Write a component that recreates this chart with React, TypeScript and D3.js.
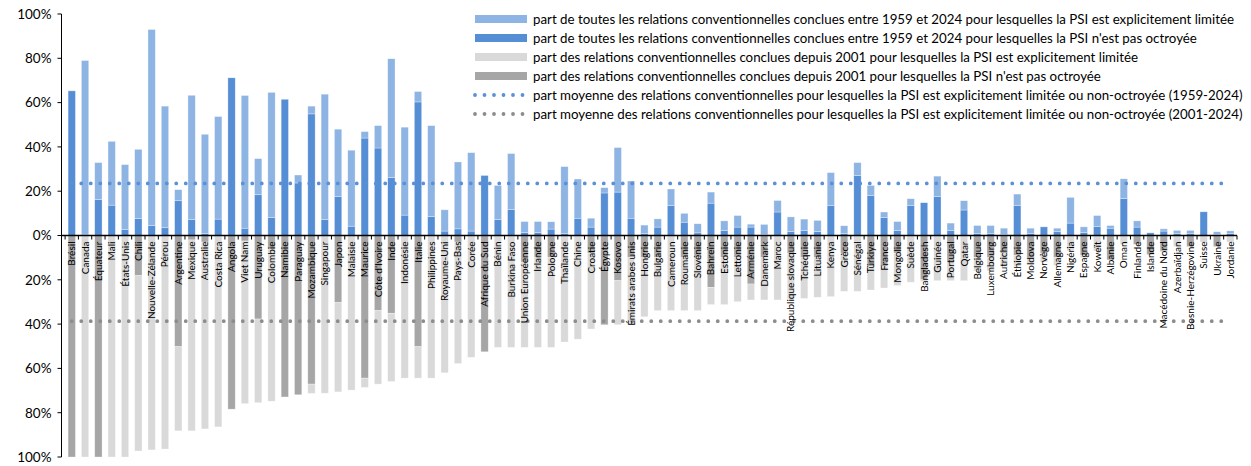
import React from 'react';
import * as d3 from 'd3';

const categories = [
  'Brésil','Canada','Équateur','Mali','États-Unis','Chili','Nouvelle-Zélande','Pérou','Argentine','Mexique',
  'Australie','Costa Rica','Angola','Viet Nam','Uruguay','Colombie','Namibie','Paraguay','Mozambique','Singapour',
  'Japon','Malaisie','Maurice',"Côte d'Ivoire",'Inde','Indonésie','Italie','Philippines','Royaume-Uni','Pays-Bas',
  'Corée','Afrique du Sud','Bénin','Burkina Faso','Union Européenne','Irlande','Pologne','Thaïlande','Chine','Croatie',
  'Égypte','Kosovo','Émirats arabes unis','Hongrie','Bulgarie','Cameroun','Roumanie','Slovénie','Bahreïn','Estonie',
  'Lettonie','Arménie','Danemark','Maroc','République slovaque','Tchéquie','Lituanie','Kenya','Grèce','Sénégal',
  'Türkiye','France','Mongolie','Suède','Bangladesh','Guinée','Portugal','Qatar','Belgique','Luxembourg',
  'Autriche','Éthiopie','Moldova','Norvège','Allemagne','Nigéria','Espagne','Koweït','Albanie','Oman',
  'Finlande','Islande','Macédoine du Nord','Azerbaïdjan','Bosnie-Herzégovine','Suisse','Ukraine','Jordanie'
];

// share of all treaty relations 1959-2024 (%)
const notGrantedAll = [
  65.3,0.6,16.3,13.7,2.7,7.7,4.5,3.5,15.7,7.2,
  1,7.4,71.2,3.3,18.4,8.1,61.5,23.7,54.9,7.2,
  17.6,4.2,44,39.5,26.2,9.2,60.3,8.6,2,3,
  2,27.1,7.2,11.8,1.4,1.4,2.9,1,7.8,3.8,
  19.2,19.6,7.8,1,3.8,13.6,6,1.2,14.6,2.3,
  3.8,3.8,0.5,10.6,1.8,2.3,1.8,13.6,0.8,27.1,
  18.1,8.1,2.3,13.6,14.8,17.6,2.3,11.5,1,1,
  0.5,13.6,1,3.9,1.7,5.6,1.4,4,3.3,16.7,
  3.8,1.2,2,1,1,10.7,0.5,0.8
];
const limitedAll = [
  0,78.4,16.6,28.8,29.3,31.2,88.5,54.9,5,56.1,
  44.7,46.3,0,59.9,16.3,56.5,0,3.6,3.5,56.6,
  30.4,34.3,2.9,10.1,53.6,39.7,4.7,41,9.6,30.2,
  35.4,0,15.4,25.2,4.9,4.9,3.3,30.1,17.7,4,
  2.4,20.1,16.8,3.7,3.7,7.4,4,4.1,5,4.3,
  5.2,1.3,4.5,5.2,6.6,5.1,5,14.8,3.6,5.8,
  4.5,2.5,4,3,0,9.2,3.3,4.2,3.5,3.5,
  2.8,5.1,2.3,0,1.6,11.6,2.5,5,1.2,8.9,
  2.8,0,1,1.3,1.3,0,1.2,1.3
];
// share of treaty relations concluded since 2001 (%)
const notGranted2001 = [
  100,0,100,0,0,18.1,0,0,50.2,2,
  3,0,78.4,2.5,37.7,6,72.9,71.9,67.1,0,
  30.3,0,64.4,33.9,35.1,0,50.2,0,0,3,
  0,52.5,0,0,12,10,10,0,0,8,
  40.3,20.4,10,10,10,0,10,10,23.4,10,
  10,21.9,10,0,8,10,10,0,8,0,
  14,14,8,0,20,0,12,0,10,10,
  8,9,10,8,10,0,9,0,11,0,
  4,8.6,7,0,5,0,5,0
];
const limited2001 = [
  0,100,0,100,100,79.2,96.8,96.4,38,86.2,
  84.3,86.4,0,73.4,37.8,68.8,0,0,4.2,71.2,
  40.3,69.8,4.2,33.2,30.8,64.4,14.2,64.4,62,54.8,
  55,0,50.5,50.5,38.5,40.5,40.5,48.1,46.8,34.2,
  0,19.9,29.2,26.7,23.9,33.9,23.9,23.9,7.8,21.2,
  19.9,7.2,19.1,29.1,20.6,18.4,17.9,27.6,17.2,25.2,
  10.6,9.7,14.6,21.1,0.8,20.4,8.4,20.4,6,6,
  6,5,3,4,3.5,7,1,7,0,4,
  0,0,0.5,5,0,3,0,3
];
const meanAll = 23.5;
const mean2001 = 38.7;

const yTicks = [-100, -80, -60, -40, -20, 0, 20, 40, 60, 80, 100];

const legendLabels = [
  'part de toutes les relations conventionnelles conclues entre 1959 et 2024 pour lesquelles la PSI est explicitement limitée',
  "part de toutes les relations conventionnelles conclues entre 1959 et 2024 pour lesquelles la PSI n'est pas octroyée",
  'part des relations conventionnelles conclues depuis 2001 pour lesquelles la PSI est explicitement limitée',
  "part des relations conventionnelles conclues depuis 2001 pour lesquelles la PSI n'est pas octroyée",
  'part moyenne des relations conventionnelles pour lesquelles la PSI est explicitement limitée ou non-octroyée (1959-2024)',
  'part moyenne des relations conventionnelles pour lesquelles la PSI est explicitement limitée ou non-octroyée (2001-2024)'
];

const C_LB = '#8EB4E3';
const C_DB = '#558ED5';
const C_LG = '#D9D9D9';
const C_DG = '#A6A6A6';
const C_DOTB = '#5B8FD6';
const C_DOTG = '#8C8C8C';
const FONT = "Lato, 'Open Sans', sans-serif";

export default function App() {
  const W = 1251, H = 466;
  const x = d3.scaleBand<string>().domain(categories).range([65.1, 1237]).paddingInner(0.45).paddingOuter(0.225);
  const y = d3.scaleLinear().domain([-100, 100]).range([457, 14]);
  const step = x.step();
  const bw = x.bandwidth();
  const y0 = y(0);
  const left = 61.5;
  const cx = (c: string) => (x(c) as number) + bw / 2;

  const rect = (key: string, c: string, a: number, b: number, fill: string) => {
    const ya = y(a), yb = y(b);
    const top = Math.min(ya, yb), h = Math.abs(ya - yb);
    if (h <= 0) return null;
    return <rect key={key} x={x(c)} y={top} width={bw} height={h} fill={fill} stroke="#ffffff" strokeOpacity={0.5} strokeWidth={0.6} />;
  };

  const lineGen = d3.line<number>().x((d, i) => (i === 0 ? cx(categories[0]) : cx(categories[categories.length - 1]))).y(d => y(d));

  const legendX = 475;
  const legendY0 = 19;
  const legendDy = 19;

  return (
    <svg width={W} height={H} style={{ position: 'absolute', left: 0, top: 0, background: '#fff' }} fontFamily={FONT}>
      <rect x={0} y={0} width={W} height={H} fill="#fff" />
      {categories.map((c, i) => (
        <g key={c}>
          {rect('dg' + i, c, 0, -notGranted2001[i], C_DG)}
          {rect('lg' + i, c, -notGranted2001[i], -(notGranted2001[i] + limited2001[i]), C_LG)}
          {rect('db' + i, c, 0, notGrantedAll[i], C_DB)}
          {rect('lb' + i, c, notGrantedAll[i], notGrantedAll[i] + limitedAll[i], C_LB)}
        </g>
      ))}
      {/* mean lines */}
      <path d={lineGen([meanAll, meanAll]) as string} stroke={C_DOTB} strokeWidth={3.8} strokeDasharray="0 9.5" strokeLinecap="round" fill="none" />
      <path d={lineGen([-mean2001, -mean2001]) as string} stroke={C_DOTG} strokeWidth={3.8} strokeDasharray="0 9.5" strokeLinecap="round" fill="none" />
      {/* y axis */}
      <line x1={left} x2={left} y1={y(100)} y2={y(-100)} stroke="#000" strokeWidth={1} />
      {yTicks.map(t => (
        <g key={t}>
          <line x1={left - 4} x2={left} y1={y(t)} y2={y(t)} stroke="#000" strokeWidth={1} />
          <text x={left - 10} y={y(t)} dy="0.36em" textAnchor="end" fontSize={13.5} fill="#000">{Math.abs(t)}%</text>
        </g>
      ))}
      {/* x axis */}
      <line x1={left} x2={1237} y1={y0} y2={y0} stroke="#000" strokeWidth={1.3} />
      {d3.range(categories.length + 1).map(i => {
        const xx = 65.1 + i * step;
        return <line key={'t' + i} x1={xx} x2={xx} y1={y0} y2={y0 + 4} stroke="#000" strokeWidth={1} />;
      })}
      {categories.map(c => (
        <text key={'l' + c} transform={`translate(${cx(c) + 3.5},${y0 + 6}) rotate(-90)`} textAnchor="end" fontSize={10} fill="#000">{c}</text>
      ))}
      {/* legend */}
      {legendLabels.map((lab, i) => {
        const yy = legendY0 + i * legendDy;
        let sw: React.ReactNode;
        if (i < 4) {
          const fill = [C_LB, C_DB, C_LG, C_DG][i];
          sw = <rect x={legendX} y={yy - 4} width={52} height={8} fill={fill} />;
        } else {
          sw = <line x1={legendX} x2={legendX + 52} y1={yy} y2={yy} stroke={i === 4 ? C_DOTB : C_DOTG} strokeWidth={3.8} strokeDasharray="0 9.5" strokeLinecap="round" />;
        }
        return (
          <g key={'lg' + i}>
            {sw}
            <text x={533} y={yy} dy="0.35em" fontSize={13.3} fill="#000">{lab}</text>
          </g>
        );
      })}
    </svg>
  );
}
